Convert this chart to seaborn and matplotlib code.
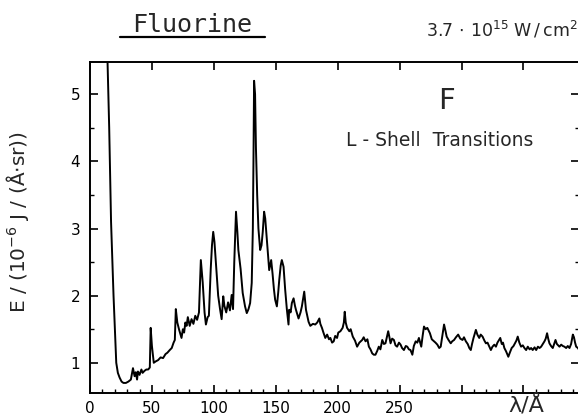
import numpy as np
import pandas as pd
import matplotlib
matplotlib.use("Agg")
import matplotlib.pyplot as plt
from matplotlib.lines import Line2D
from matplotlib.ticker import MultipleLocator, FixedLocator
import seaborn as sns

# Fluorine L-shell emission spectrum: wavelength (Angstrom) and spectral energy
wavelength = [
    14.0, 14.4, 15.5, 17.0, 19.0, 21.2, 22.5, 23.9, 25.5, 27.0, 29.0, 31.0, 33.0,
    34.7, 36.0, 37.0, 38.0, 38.7, 40.0, 41.5, 42.5, 44.0, 45.5, 47.0, 48.3, 49.0, 50.0,
    51.5, 53.0, 55.0, 57.0, 59.0, 61.0, 62.5, 64.4, 66.0, 67.5, 68.5, 69.3, 70.5, 72.0,
    73.9, 75.0, 76.0, 77.0, 78.0, 79.0, 80.5, 82.0, 83.5, 85.0, 86.5, 88.0, 89.5, 91.0,
    92.5, 93.6, 95.0, 96.0, 97.5, 98.5, 99.5, 100.5, 102.0, 103.5, 105.0, 106.3, 107.6,
    108.5, 110.0, 111.5, 113.0, 114.4, 115.5, 116.5, 117.9, 119.0, 119.8, 121.6, 123.3,
    125.2, 126.6, 128.0, 129.3, 130.6, 131.5, 132.0, 132.5, 133.3, 134.0, 135.0, 136.0,
    137.4, 138.5, 139.5, 140.6, 141.5, 142.8, 144.0, 144.7, 146.3, 147.4, 148.5, 149.5,
    150.9, 152.0, 152.8, 154.0, 154.9, 156.3, 157.6, 159.0, 160.3, 160.8, 162.0, 163.0,
    164.4, 165.5, 166.3, 168.4, 170.0, 171.1, 173.0, 174.4, 176.5, 177.9, 180.0, 181.9,
    183.5, 185.2, 186.0, 187.3, 188.5, 190.0, 191.5, 193.0, 194.1, 195.5, 196.8, 198.0,
    199.5, 200.5, 202.2, 204.0, 205.0, 205.7, 206.5, 207.6, 209.4, 210.5, 212.2, 214.0,
    215.7, 217.5, 219.8, 221.0, 222.5, 224.0, 225.2, 226.5, 227.9, 229.2, 230.5, 232.0,
    233.2, 234.5, 236.0, 237.3, 238.6, 240.0, 240.8, 241.8, 242.7, 244.0, 245.4, 246.7,
    248.0, 249.5, 250.8, 252.0, 253.5, 255.0, 256.2, 257.5, 258.8, 260.3, 261.5, 263.0,
    264.3, 265.6, 267.5, 268.6, 269.7, 271.0, 272.4, 274.5, 276.0, 277.8, 279.0, 280.5,
    282.0, 283.2, 284.5, 285.9, 287.0, 288.0, 289.5, 291.3, 292.5, 294.0, 295.5, 297.3,
    299.0, 300.8, 302.0, 303.5, 305.0, 306.3, 307.5, 308.5, 309.7, 311.6, 312.8, 314.3,
    315.5, 317.0, 318.5, 319.7, 321.0, 322.5, 323.7, 325.0, 326.5, 327.8, 329.0, 330.0,
    331.3, 332.5, 333.5, 334.6, 336.0, 337.8, 339.0, 340.5, 342.0, 343.2, 344.3, 345.4,
    346.7, 348.1, 349.5, 350.8, 352.2, 353.5, 355.0, 356.2, 357.5, 359.0, 360.3, 361.7,
    363.0, 364.3, 365.7, 367.0, 368.0, 369.1, 370.0, 371.0, 372.3, 373.7, 374.8, 375.9,
    377.0, 378.0, 379.1, 380.5, 381.8, 383.1, 384.5, 385.8, 387.2, 388.5, 389.9, 390.8,
    391.7, 392.6, 394.0, 395.0,
]
energy = [
    5.60, 5.30, 4.50, 3.10, 2.00, 1.00, 0.85, 0.78, 0.72, 0.70, 0.70, 0.72, 0.75,
    0.92, 0.80, 0.86, 0.75, 0.87, 0.82, 0.90, 0.85, 0.88, 0.90, 0.90, 0.93, 1.52, 1.25,
    1.00, 1.02, 1.04, 1.08, 1.07, 1.13, 1.15, 1.19, 1.22, 1.30, 1.34, 1.80, 1.60, 1.49,
    1.37, 1.50, 1.45, 1.60, 1.55, 1.68, 1.55, 1.65, 1.58, 1.70, 1.64, 1.75, 2.53, 2.20,
    1.75, 1.57, 1.68, 1.70, 2.40, 2.75, 2.95, 2.80, 2.40, 2.00, 1.80, 1.65, 1.99,
    1.85, 1.75, 1.90, 1.78, 2.01, 1.80, 2.50, 3.25, 2.95, 2.68, 2.40, 2.04,
    1.84, 1.74, 1.80, 1.89, 2.19, 3.00, 4.00, 5.20, 5.00, 4.20, 3.50, 3.00,
    2.68, 2.75, 2.95, 3.25, 3.15, 2.83, 2.55, 2.38, 2.53, 2.33, 2.10, 1.94,
    1.84, 2.05, 2.23, 2.45, 2.53, 2.43, 2.09, 1.79, 1.57, 1.79, 1.75, 1.89,
    1.96, 1.85, 1.79, 1.66, 1.75, 1.84, 2.06, 1.79, 1.61, 1.55, 1.58, 1.57,
    1.60, 1.66, 1.58, 1.52, 1.45, 1.37, 1.42, 1.35, 1.37, 1.30, 1.32, 1.40,
    1.37, 1.45, 1.47, 1.52, 1.60, 1.76, 1.60, 1.52, 1.47, 1.50, 1.39, 1.33,
    1.24, 1.30, 1.34, 1.38, 1.32, 1.35, 1.24, 1.20, 1.14, 1.12, 1.12, 1.18,
    1.24, 1.20, 1.34, 1.28, 1.29, 1.40, 1.47, 1.38, 1.29, 1.36, 1.34, 1.26,
    1.24, 1.30, 1.27, 1.22, 1.19, 1.25, 1.24, 1.20, 1.19, 1.12, 1.25, 1.32,
    1.30, 1.37, 1.24, 1.40, 1.54, 1.50, 1.52, 1.44, 1.35, 1.32, 1.30, 1.27,
    1.22, 1.24, 1.40, 1.57, 1.48, 1.39, 1.34, 1.29, 1.32, 1.34, 1.38, 1.42,
    1.36, 1.34, 1.38, 1.32, 1.28, 1.22, 1.19, 1.28, 1.37, 1.49, 1.42, 1.37,
    1.42, 1.39, 1.33, 1.29, 1.30, 1.24, 1.19, 1.24, 1.27, 1.24, 1.30, 1.33,
    1.37, 1.28, 1.30, 1.22, 1.17, 1.09, 1.15, 1.22, 1.25, 1.29, 1.33, 1.39,
    1.30, 1.24, 1.26, 1.22, 1.19, 1.24, 1.20, 1.22, 1.19, 1.23, 1.19, 1.24,
    1.22, 1.24, 1.28, 1.32, 1.36, 1.44, 1.36, 1.29, 1.25, 1.22, 1.28, 1.34,
    1.28, 1.26, 1.24, 1.27, 1.25, 1.24, 1.22, 1.25, 1.22, 1.28, 1.42, 1.38,
    1.30, 1.24, 1.22, 1.19,
]

x_major = [0, 50, 100, 150, 200, 250, 300, 350]
x_labels = ["0", "50", "100", "150", "200", "250", "", ""]
y_major = [1, 2, 3, 4, 5]
y_labels = ["1", "2", "3", "4", "5"]

sns.set_style("ticks")
plt.rcParams["font.family"] = ["DejaVu Sans"]
plt.rcParams["mathtext.fontset"] = "dejavusans"

df = pd.DataFrame({"wavelength": wavelength, "energy": energy})

W, H = 578, 418
fig = plt.figure(figsize=(W / 100, H / 100), dpi=100)
fig.patch.set_facecolor("white")
ax = fig.add_axes([90 / W, 1 - 393 / H, 1 - 90 / W + 0.002, (393 - 62) / H])

sns.lineplot(data=df, x="wavelength", y="energy", color="black", linewidth=1.4,
             estimator=None, sort=False, ax=ax)

ax.set_xlim(0, 395)
ax.set_ylim(0.55, 5.48)
ax.set_xlabel("")
ax.set_ylabel("")

ax.xaxis.set_major_locator(FixedLocator(x_major))
ax.set_xticklabels(x_labels)
ax.xaxis.set_minor_locator(MultipleLocator(10))
ax.yaxis.set_major_locator(FixedLocator(y_major))
ax.set_yticklabels(y_labels)
ax.yaxis.set_minor_locator(MultipleLocator(0.5))

ax.tick_params(which="major", direction="in", length=6, width=1.2, colors="black",
               labelsize=11, top=True, right=True, pad=7)
ax.tick_params(which="minor", direction="in", length=3, width=1.0, colors="black",
               top=False, right=True)
ax.tick_params(axis="x", which="major", pad=6)
for s in ax.spines.values():
    s.set_linewidth(1.4)
    s.set_color("black")

# headings and annotations
fig.text(192 / W, 1 - 25 / H, "Fluorine", ha="center", va="center", fontsize=18,
         family="DejaVu Sans Mono")
fig.add_artist(Line2D([120 / W, 265 / W], [1 - 37 / H, 1 - 37 / H],
                      color="black", linewidth=1.6, transform=fig.transFigure))
fig.text(578 / W, 1 - 37 / H, r"3.7$\,\cdot\,$10$^{15}$ W$\,$/$\,$cm$^2$",
         ha="right", va="baseline", fontsize=12.5)
fig.text(446 / W, 1 - 101 / H, "F", ha="center", va="center", fontsize=21)
fig.text(440 / W, 1 - 140 / H, "L - Shell  Transitions", ha="center", va="center",
         fontsize=13.5)
fig.text(526 / W, 1 - 405 / H, "λ/Å", ha="center", va="center", fontsize=16)
fig.text(18 / W, 1 - 222 / H, r"E / (10$^{-6}$ J / (Å$\cdot$sr))", ha="center",
         va="center", rotation=90, fontsize=14.5)

fig.savefig("out.png", dpi=100, facecolor="white")
